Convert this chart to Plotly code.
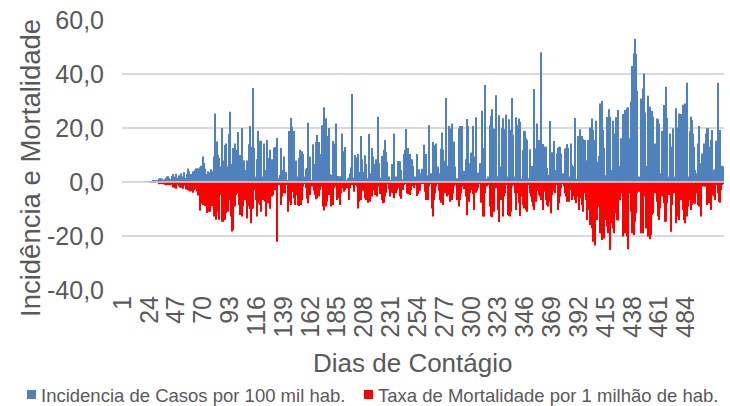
import plotly.graph_objects as go

# ---------------- data ----------------
days = list(range(1, 517))
tick_days = list(range(1, 485, 23))
tick_labels = [str(d) for d in tick_days]
y_ticks = [-40, -20, 0, 20, 40, 60]
y_tick_labels = ["-40,0", "-20,0", "0,0", "20,0", "40,0", "60,0"]

name_inc = "Incidencia de Casos por 100 mil hab."
name_mort = "Taxa de Mortalidade por 1 milhão de hab."

# Incidence (blue), days 1-78
inc_a = [0, 0, 0, 0, 0, 0, 0, 0, 0, 0, 0, 0, 0, 0, 0, 0, 0, 0, 0, 0.1,
         0.1, 0.2, 0.1, 0.3, 0.2, 0.3, 0.4, 0.3, 0.5, 0.4,
         0.6, 1.2, 1.5, 1.0, 1.3, 0.8, 1.0, 1.6, 2.0, 2.1,
         1.5, 1.0, 2.2, 3.0, 1.2, 2.0, 3.1, 1.6, 2.5, 1.0,
         3.2, 1.1, 2.0, 3.6, 1.5, 3.0, 5.0, 4.0, 2.2, 3.0,
         4, 3, 4.5, 5, 5, 5, 5.5, 6, 5, 9.4,
         7, 5, 3, 4, 3.5, 3, 4.7, 4]
# days 79-170
inc_b = [9.4, 25.4, 6.7, 15, 10, 9, 5.7, 20, 8, 4,
         13.7, 14.3, 5.7, 17.8, 26, 5.7, 6.7, 12.6, 14.3, 10,
         11.9, 18.5, 4.4, 10, 20, 8, 8, 2, 4.4, 8,
         14, 20.7, 3, 13, 34.8, 12.6, 2, 8.4, 18.9, 15.3,
         14.3, 15.3, 2, 14.3, 3.2, 4.4, 15.6, 8.9, 11.9, 4.2,
         8.4, 2, 12.6, 13, 16.3, 1.4, 0.7, 2.6, 12.6, 4.4,
         9.4, 2, 3.7, 0.7, 0.7, 18.9, 23.7, 20.5, 17, 19,
         0.5, 8, 2, 8.9, 11.9, 10.6, 11.4, 10.4, 2, 4.9,
         5.2, 21.9, 8, 9.4, 0.5, 14, 6.7, 6.7, 14.8, 17.4,
         14.8, 10.4]
# days 171-255
inc_c = [4.4, 21, 20.2, 27.7, 23.6, 17, 6.7, 20, 3, 2.6,
         15.2, 14.3, 5.9, 21.7, 0.5, 2.2, 2, 2.2, 18, 8.9,
         11.4, 13, 0.5, 1.4, 1.7, 3.2, 5.4, 32.6, 1.7, 10,
         1.7, 9.1, 10.4, 3.7, 17, 8.4, 3.8, 0.5, 9.9, 6.7,
         1.4, 17.8, 1.2, 3.2, 12.6, 9.4, 6.7, 8.4, 2, 24.2,
         6.9, 1.7, 9.6, 1.2, 11.9, 15.6, 11.1, 7.5, 2, 0.7,
         0.7, 6.7, 6.3, 18, 2, 1.2, 7.8, 3.2, 7.7, 4.4,
         1, 10.4, 11.9, 19.6, 0.7, 12.6, 10.4, 7.9, 8.4, 5.9,
         1, 2, 10.4, 0.7, 4.7]
# days 256-341
inc_d = [2.6, 3.2, 4.9, 13.8, 2.5, 10.4, 2.5, 1, 21, 3.2,
         2.6, 14.8, 13.6, 12.3, 14.3, 5.7, 2, 3.2, 12.3, 18.3,
         12.1, 7.9, 31.1, 3.2, 6, 20.7, 19.8, 21.7, 14.6, 15,
         5.7, 0.7, 1.4, 19.8, 20.7, 19.3, 20.7, 2, 4.2, 8.4,
         23.3, 20.7, 2.5, 6.9, 10.9, 20.7, 9.4, 2, 24, 2,
         3.5, 6.9, 2, 26.4, 1, 12.6, 35.9, 1.2, 2, 1,
         21, 24.4, 26.9, 19.8, 14.6, 32.1, 2, 2, 24.7, 5.7,
         19.9, 23.6, 19.5, 2.5, 25, 2, 23.2, 19.3, 9.1, 31.1,
         17.4, 2, 24, 20.5, 21, 23.5]
# days 342-426
inc_e = [22.3, 1.3, 11.9, 18.9, 18.9, 16.2, 15.6, 1.4, 12.1, 2,
         5.9, 1, 34.4, 12.5, 21.7, 2, 15.6, 4.1, 48.1, 14.1,
         13.1, 13.1, 13.1, 5.2, 2.6, 22.6, 1.2, 11, 8.1, 15.2,
         4.4, 10.6, 12.6, 13.1, 13, 10.6, 3.2, 3.2, 12.3, 12.6,
         14.1, 12.7, 2, 14.3, 6.4, 5.7, 2, 23.7, 1.2, 17,
         13.8, 19.5, 2, 17, 15.8, 15.6, 2, 8.1, 15.6, 2,
         20.2, 23.5, 19.3, 15.6, 7.5, 22.7, 7.5, 9.6, 29.1, 8.8,
         30, 19.3, 12.6, 2.5, 24.1, 23.5, 26.9, 24.2, 4.4, 22.7,
         18, 2, 24, 23.6, 26.7]
# days 427-516
inc_f = [5.9, 16.2, 1.4, 25.2, 24, 26.7, 27.3, 27.7, 11.4, 16.2,
         29.8, 43, 47.7, 53.1, 47.4, 33.8, 1.4, 2, 30.9, 28.5,
         34.6, 40.2, 25.7, 5.9, 31.9, 6, 27.9, 3.5, 26.3, 24.2,
         14.3, 1.4, 23.5, 23.2, 21.7, 3.2, 18.9, 2, 28.5, 23.2,
         35.3, 23.7, 2, 18, 13.1, 6.9, 19.9, 2, 27.3, 20.2,
         18, 25.4, 2, 25.2, 28.6, 18, 29.1, 12.1, 36.8, 2,
         18.8, 24.2, 23, 18, 13.1, 4.4, 3.2, 14.3, 20.7, 6.9,
         5.7, 10.6, 14.3, 4.4, 18, 19.9, 19.9, 13.1, 15.6, 19.3,
         2, 4.4, 4.7, 15.3, 36.8, 14.9, 19.3, 5.7, 6, 5.7]

# Mortality (red, negative), days 1-75
mort_a = [0, 0, 0, 0, 0, 0, 0, 0, 0, 0, 0, 0, 0, 0, 0, 0, 0, 0, 0, 0,
          0, 0, 0, 0, -0.2, -0.3, -0.3, -0.2, -0.3, 0,
          -0.3, -0.8, -0.5, -0.6, -0.4, -0.8, -1.0, -1.2, -1.0, -1.1,
          -0.9, -1.2, -1.0, -2.0, -1.8, -2.2, -2.5, -1.0, -1.6, -2.0,
          -2.1, -1.5, -2.5, -1.4, -2.8, -2.0, -3.0, -3.2, -3.5, -3.3,
          -4.0, -3.0, -2.6, -2.5, -3.5, -5.0, -10.6, -6.0, -8.0, -8.5,
          -3.5, -9.0, -11.5, -8, -11]
# days 76-170
mort_b = [-11, -6.7, -9, -12.8, -8.5, -14, -11, -10.4, -14, -4.8,
          -14.7, -14.7, -14, -14, -11.6, -11, -6.7, -3.7, -12.8, -18.3,
          -17.8, -9.1, -4.8, -4.2, -3.6, -8.5, -12.2, -12.8, -9, -4.2,
          -6.7, -3.6, -13.5, -9, -10, -15.3, -10, -9.8, -3, -6.7,
          -12.8, -3.6, -7.9, -8.5, -11, -6.7, -2.3, -7.3, -12.8, -7.3,
          -7.9, -9.9, -3.6, -5.4, -4.8, -1.7, -3, -22.1, -0.5, -1.1,
          -0.5, -8.5, -5.4, -4.2, -4.2, -1.1, -0.5, -11, -7.3, -8.5,
          -3.6, -3.6, -6, -8.5, -4.8, -8.5, -8.9, -5.4, -8.5, -6.7,
          -1.7, -0.5, -2.3, -6.2, -7.9, -4.8, -4.8, -1.7, -0.5, -3.2,
          -4.8, -6.4, -6, -5.4, -3]
# days 171-255
mort_c = [-1.7, -1.1, -9.1, -10.6, -9.1, -7.3, -1.7, -4.8, -1.5, -9.1,
          -8.5, -2.3, -1.7, -0.5, -6.7, -6, -8.5, -4.2, -1.5, -2.3,
          -3.6, -3, -2.3, -1.7, -6.7, -2.3, -0.7, -1.1, -3.6, -1.1,
          -0.7, -1.7, -9.8, -7.3, -6.7, -2.3, -3.2, -3, -6, -6.7,
          -7.7, -3.6, -7.3, -3.2, -5.4, -3, -4.8, -4.2, -5.4, -1.7,
          -0.7, -4.4, -6.7, -7.9, -7.7, -5.4, -4, -0.7, -2.7, -5.4,
          -4, -3.2, -4.2, -6, -4.2, -3, -1.7, -2.3, -5.4, -6.2,
          -3, -1.1, -0.5, -0.7, -4.2, -4.4, -4.8, -3, -1.5, -1.1,
          -2.3, -1.1, -5.2, -4.4, -3.2]
# days 256-341
mort_d = [-3.2, -0.5, -0.5, -0.5, -3.6, -6.7, -4.2, -6.7, -1.7, -0.5,
          -9.8, -12.8, -6.7, -4.2, -1.7, -0.5, -3.2, -6.7, -7.7, -4.8,
          -8.5, -4.2, -1.1, -5.4, -4.8, -4.8, -7.3, -6.7, -4.2, -1.7,
          -1.1, -1.1, -6.7, -9.1, -6.7, -4.2, -1.7, -0.5, -2.7, -5.4,
          -12.3, -5.4, -7.3, -4.2, -3, -4.4, -10.4, -1.7, -4, -3.2,
          -2.3, -0.7, -7.7, -0.5, -12.8, -12.8, -4.2, -1.7, -1.1, -0.5,
          -9.1, -12.8, -13.1, -11, -2.3, -1.7, -2.3, -10.4, -14.8, -6.7,
          -1.7, -12.8, -5.4, -4.2, -1.1, -12.2, -12.6, -12.8, -11, -1.7,
          -1.1, -4.2, -10.4, -4.2, -2.3, -7.9]
# days 342-426
mort_e = [-12.6, -5.4, -8.5, -9.8, -9.1, -10.4, -11, -1.1, -4.2, -5.4,
          -7.3, -9.1, -10.4, -7.3, -3.2, -1.7, -4.8, -5.4, -6.7, -10.4,
          -1.7, -3.6, -6.7, -8.5, -9.1, -7.3, -11.6, -4.8, -1.7, -3.2,
          -4.2, -1.1, -10.4, -7.9, -5.4, -2.3, -0.5, -1.7, -4.2, -5.4,
          -7.3, -4.2, -7.3, -3, -6.7, -5.2, -3, -6.7, -7.9, -5.4,
          -10.4, -6, -4.8, -8.5, -11, -4.2, -6.7, -14.1, -10.4, -9.1,
          -15.9, -17.2, -22.1, -10.4, -23.5, -11.6, -14.1, -9.1, -19, -19,
          -21.5, -14.1, -20.9, -14.1, -16.5, -19, -17.8, -25.2, -15.3, -17.2,
          -19, -11.6, -9.1, -14.1, -14.3]
# days 427-516
mort_f = [-6.7, -4.2, -3, -20.2, -14.1, -19, -20.2, -24.9, -4.2, -4.2,
          -11, -19, -19.6, -14.7, -11.6, -4.2, -2.3, -3.6, -19, -15.9,
          -19, -5.4, -4.2, -17.2, -20.2, -6, -21.2, -19.6, -12.2, -11.6,
          -4.2, -1.7, -7.3, -12.8, -14.1, -9.8, -5.4, -1.1, -7.9, -14.7,
          -14.7, -7.9, -4.8, -1.7, -18.4, -8.5, -3, -4.2, -15.3, -12.8,
          -11.6, -14.1, -4.2, -6.7, -10.4, -14.1, -15.3, -11.6, -12.8, -9.1,
          -6.7, -10.4, -8.5, -6.7, -7.9, -8.1, -4.2, -8.5, -9.1, -7.3,
          -12.8, -1.7, -1.7, -1.7, -1.1, -8.5, -4.2, -7.9, -10.4, -4.8,
          -3, -5.4, -6.7, -1.1, -4.2, -7.3, -7.7, -3, -1.1, -0.5]

incidencia = inc_a + inc_b + inc_c + inc_d + inc_e + inc_f
mortalidade = mort_a + mort_b + mort_c + mort_d + mort_e + mort_f
assert len(incidencia) == len(days), len(incidencia)
assert len(mortalidade) == len(days), len(mortalidade)

# ---------------- layout helpers ----------------
W, H = 730, 406
ML, MR, MT, MB = 122, 6, 20, 116
PW, PH = W - ML - MR, H - MT - MB


def px(x):
    return (x - ML) / PW


def py(y):
    return (H - MB - y) / PH


TXT = "#595959"
FONT = "Liberation Sans, Arial, sans-serif"
BLUE = "#4F81BD"
RED = "#FF0000"

fig = go.Figure()
fig.add_bar(x=days, y=incidencia, name=name_inc, marker_color=BLUE,
            marker_line_width=0)
fig.add_bar(x=days, y=mortalidade, name=name_mort, marker_color=RED,
            marker_line_width=0)

fig.update_layout(
    width=W, height=H,
    margin=dict(l=ML, r=MR, t=MT, b=MB),
    paper_bgcolor="white", plot_bgcolor="white",
    barmode="relative", bargap=0.15,
    showlegend=False,
    font=dict(family=FONT, color=TXT),
)
fig.update_xaxes(
    range=[0.5, len(days) + 0.5],
    tickmode="array", tickvals=tick_days, ticktext=tick_labels,
    tickangle=-90, tickfont=dict(size=25, color=TXT, family=FONT),
    showgrid=False, zeroline=False, showline=False, ticks="",
)
fig.update_yaxes(
    range=[-40, 60], tickmode="array", tickvals=y_ticks,
    ticktext=y_tick_labels,
    tickfont=dict(size=25, color=TXT, family=FONT),
    showgrid=True, gridcolor="#D9D9D9", gridwidth=1.5,
    zeroline=False, showline=False,
    ticks="outside", ticklen=12, tickcolor="rgba(0,0,0,0)",
)

# horizontal category axis line at zero (drawn over the bars like Excel)
fig.add_shape(type="line", xref="paper", yref="y", x0=0, x1=1, y0=0, y1=0,
              line=dict(color="#D9D9D9", width=1.5), layer="above")

annotations = [
    dict(text="Incidência e Mortalidade", x=px(30), y=py(168), xref="paper",
         yref="paper", textangle=-90, showarrow=False,
         font=dict(size=27.5, color=TXT, family=FONT),
         xanchor="center", yanchor="middle"),
    dict(text="Dias de Contágio", x=px(412), y=py(363), xref="paper",
         yref="paper", showarrow=False,
         font=dict(size=26, color=TXT, family=FONT),
         xanchor="center", yanchor="middle"),
    dict(text=name_inc, x=px(39), y=py(395), xref="paper", yref="paper",
         showarrow=False, font=dict(size=18.5, color=TXT, family=FONT),
         xanchor="left", yanchor="middle"),
    dict(text=name_mort, x=px(376), y=py(395), xref="paper", yref="paper",
         showarrow=False, font=dict(size=18.5, color=TXT, family=FONT),
         xanchor="left", yanchor="middle"),
]
fig.update_layout(annotations=annotations)

# legend keys
for x0, col in ((27, BLUE), (364, RED)):
    fig.add_shape(type="rect", xref="paper", yref="paper",
                  x0=px(x0), x1=px(x0 + 9), y0=py(399), y1=py(390),
                  fillcolor=col, line=dict(width=0))

fig.write_html(
    "out.html",
    config={"displayModeBar": False},
    post_script="document.body.style.margin='0';"
                "document.body.style.padding='0';"
                "document.body.style.overflow='hidden';",
)
